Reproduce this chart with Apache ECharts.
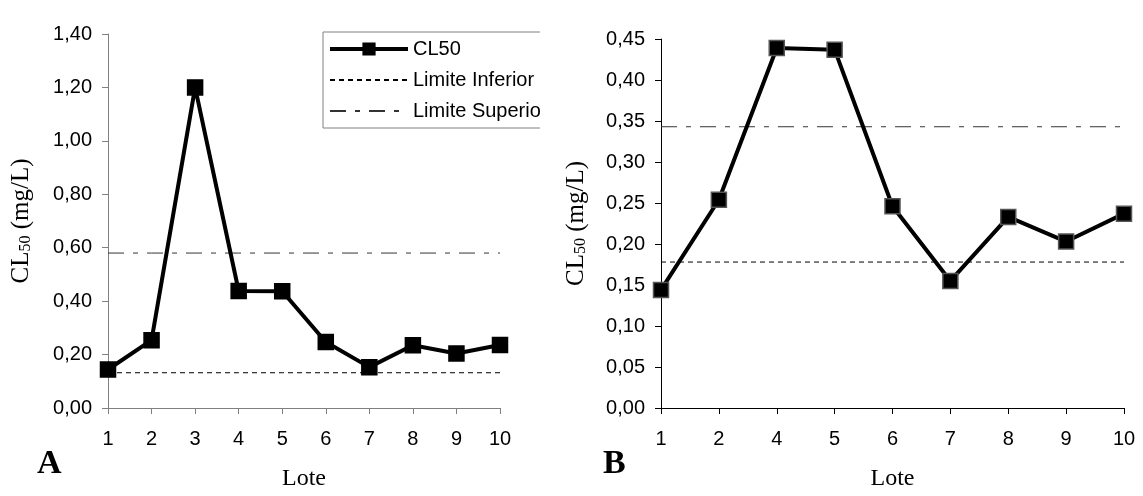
<!DOCTYPE html>
<html>
<head>
<meta charset="utf-8">
<script src="https://cdn.jsdelivr.net/npm/echarts@6/dist/echarts.min.js"></script>
<style>
  html, body { margin:0; padding:0; background:#fff; }
  #wrap { position:relative; width:1143px; height:496px; overflow:hidden; }
  #chA { position:absolute; left:0; top:0; width:540px; height:496px; }
  #chB { position:absolute; left:540px; top:0; width:603px; height:496px; }
</style>
</head>
<body>
<div id="wrap"><div id="chA"></div><div id="chB"></div></div>
<script>
/* panel A: lotes 1-10 */
var lotesA  = ["1","2","3","4","5","6","7","8","9","10"];
var cl50A   = [0.144, 0.254, 1.20, 0.438, 0.437, 0.247, 0.153, 0.235, 0.204, 0.236];
var limInfA = [0.132, 0.132, 0.132, 0.132, 0.132, 0.132, 0.132, 0.132, 0.132, 0.132];
var limSupA = [0.58, 0.58, 0.58, 0.58, 0.58, 0.58, 0.58, 0.58, 0.58, 0.58];
/* panel B: lote 3 left out */
var lotesB  = ["1","2","4","5","6","7","8","9","10"];
var cl50B   = [0.144, 0.254, 0.439, 0.437, 0.246, 0.155, 0.233, 0.203, 0.237];
var limInfB = [0.178, 0.178, 0.178, 0.178, 0.178, 0.178, 0.178, 0.178, 0.178];
var limSupB = [0.343, 0.343, 0.343, 0.343, 0.343, 0.343, 0.343, 0.343, 0.343];

var SANS  = "'Liberation Sans', Arial, sans-serif";
var SERIF = "'Liberation Serif', 'Times New Roman', serif";

function fmtComma(v){ return (+v).toFixed(2).replace(".", ","); }

function makeOption(o){
  return {
    animation:false,
    backgroundColor:"#fff",
    grid:{ left:o.gridLeft, right:o.gridRight, top:o.gridTop, bottom:85, containLabel:false },
    legend: o.legend ? {
      show:true, orient:"vertical", left:323, top:32,
      itemWidth:78, itemHeight:14, itemGap:11,
      padding:[7, 60, 7, 5],
      borderColor:"#808080", borderWidth:1,
      textStyle:{ fontSize:20, fontFamily:SANS, color:"#000" },
      data:[
        { name:"CL50", lineStyle:{ width:4, color:"#000" } },
        { name:"Limite Inferior", itemStyle:{ opacity:0 } },
        { name:"Limite Superior", itemStyle:{ opacity:0 } }
      ]
    } : { show:false },
    graphic:[{ type:"text", left:o.tagX, top:447,
      style:{ text:o.tag, font:"bold 34px " + SERIF, fill:"#000" } }],
    xAxis:{
      type:"category", data:o.cats, boundaryGap:false,
      name:"Lote", nameLocation:"middle", nameGap:59,
      nameTextStyle:{ fontSize:24, fontFamily:SERIF, color:"#000" },
      axisLine:{ lineStyle:{ color:o.axisColor, width:1 } },
      axisTick:{ show:true, length:6, lineStyle:{ color:o.axisColor } },
      axisLabel:{ fontSize:20, fontFamily:SANS, color:"#000", margin:21 },
      splitLine:{ show:false }
    },
    yAxis:{
      type:"value", min:0, max:o.yMax, interval:o.yStep,
      name:"{a|CL}{b|50}{a| (mg/L)}", nameLocation:"middle", nameRotate:90, nameGap:o.nameGapY,
      nameTextStyle:{
        rich:{
          a:{ fontSize:25, fontFamily:SERIF, color:"#000" },
          b:{ fontSize:16, fontFamily:SERIF, color:"#000", verticalAlign:"bottom" }
        }
      },
      axisLine:{ show:true, lineStyle:{ color:o.axisColor, width:1 } },
      axisTick:{ show:true, length:6, lineStyle:{ color:o.axisColor } },
      axisLabel:{ fontSize:20, fontFamily:SANS, color:"#000", margin:16, formatter:fmtComma },
      splitLine:{ show:false }
    },
    series:[
      { name:"CL50", type:"line", data:o.vals, symbol:"rect", symbolSize:15,
        lineStyle:{ color:"#000", width:4 },
        itemStyle:{ color:"#000", borderColor:o.markBorder, borderWidth:1.5 },
        z:5, emphasis:{ disabled:true } },
      { name:"Limite Inferior", type:"line", data:o.inf, symbol:"none",
        lineStyle:{ color:"#000", width:1, type:[5, 4] },
        itemStyle:{ color:"#000" }, z:2, emphasis:{ disabled:true } },
      { name:"Limite Superior", type:"line", data:o.sup, symbol:"none",
        lineStyle:{ color:"#333", width:1, type:[16, 9, 5, 9] },
        itemStyle:{ color:"#333" }, z:2, emphasis:{ disabled:true } }
    ]
  };
}

var chA = echarts.init(document.getElementById("chA"), null, { renderer:"canvas" });
chA.setOption(makeOption({
  cats:lotesA, vals:cl50A, inf:limInfA, sup:limSupA,
  yMax:1.4, yStep:0.2, gridLeft:108, gridRight:40, gridTop:34,
  nameGapY:74, axisColor:"#808080", markBorder:"#000",
  legend:true, tag:"A", tagX:37
}));

var chB = echarts.init(document.getElementById("chB"), null, { renderer:"canvas" });
chB.setOption(makeOption({
  cats:lotesB, vals:cl50B, inf:limInfB, sup:limSupB,
  yMax:0.45, yStep:0.05, gridLeft:121, gridRight:19, gridTop:39,
  nameGapY:72, axisColor:"#000", markBorder:"#555",
  legend:false, tag:"B", tagX:63
}));
</script>
</body>
</html>
